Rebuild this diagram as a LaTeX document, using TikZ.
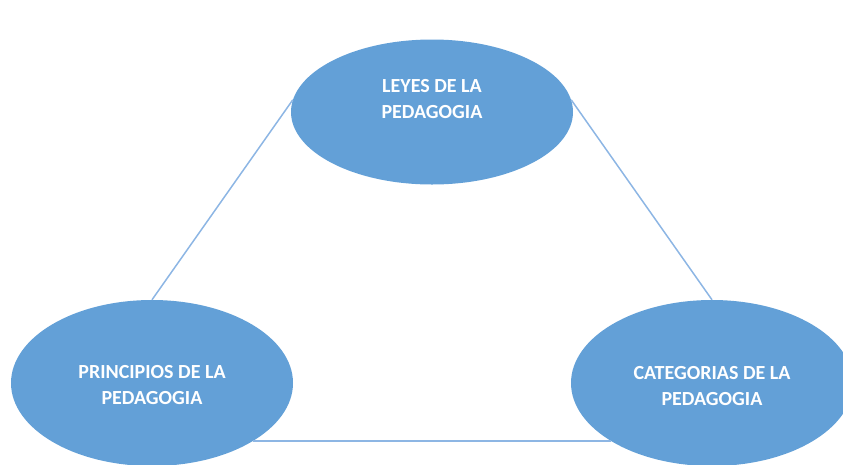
\documentclass[tikz,border=0pt]{standalone}
\usepackage{fontspec}
\setmainfont{Carlito}
\usetikzlibrary{shapes.geometric}
\definecolor{ellfill}{RGB}{99,160,215}
\definecolor{linecol}{RGB}{141,182,228}
\begin{document}
\begin{tikzpicture}[x=1pt,y=-1pt,
  bubble/.style={ellipse, fill=ellfill, inner sep=0pt, minimum width=282pt, minimum height=145pt},
  caption/.style={text=white, font=\bfseries\fontsize{20}{26}\selectfont, align=center, inner sep=0pt},
  link/.style={draw=linecol, line width=1.5pt}]
\useasboundingbox (0,0) rectangle (843,464);
\node[bubble] (T) at (432,112) {};
\node[bubble, minimum height=166pt] (L) at (152,383) {};
\node[bubble, minimum height=166pt] (R) at (712,383) {};
\node[caption] (Tt) at (432,99) {LEYES DE LA\\PEDAGOGIA};
\node[caption] (Lt) at (152,385) {PRINCIPIOS DE LA\\PEDAGOGIA};
\node[caption] (Rt) at (712,386) {CATEGORIAS DE LA\\PEDAGOGIA};
\draw[link] (T.175) -- (L.north);
\draw[link] (T.5) -- (R.north);
\draw[link] (L.-30) -- (R.-150);
\end{tikzpicture}
\end{document}
